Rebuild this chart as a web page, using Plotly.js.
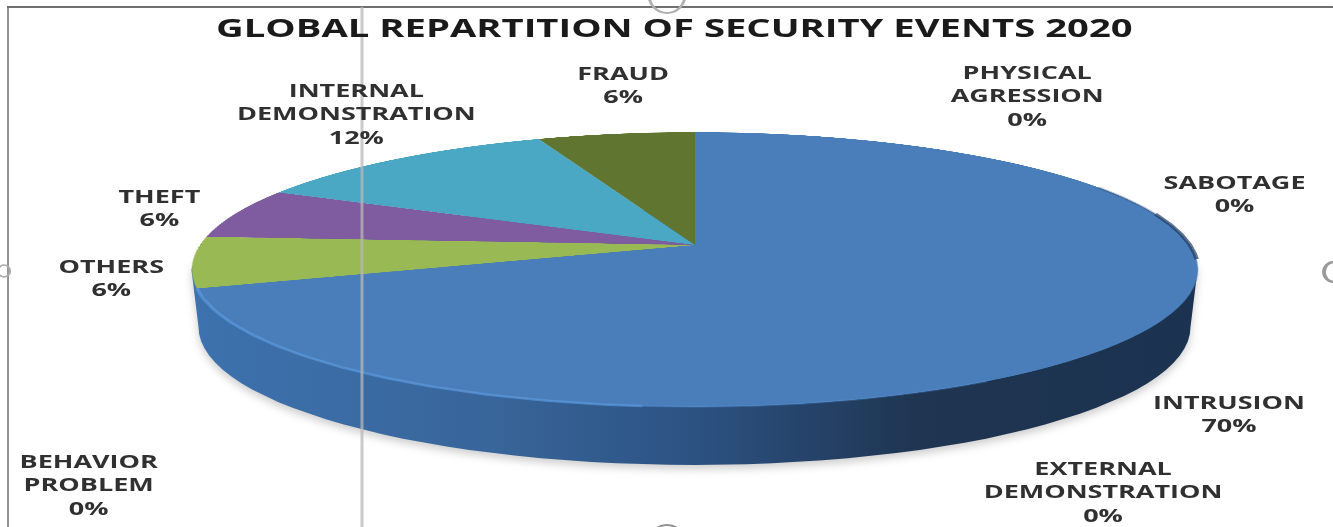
<!DOCTYPE html>
<html>
<head>
<meta charset="utf-8">
<script src="https://cdn.plot.ly/plotly-3.0.1.min.js"></script>
<style>
html,body{margin:0;padding:0;background:#fff;overflow:hidden;width:1333px;height:527px}
#stage{position:absolute;left:0;top:0;width:1333px;height:527px;overflow:hidden;filter:blur(0.55px)}
.layer{position:absolute;left:0;top:0}
#wall{width:1333px;height:527px;filter:drop-shadow(0 4px 4px rgba(0,0,0,.2))}
#pie{left:200px;top:-250px;width:990px;height:990px;transform-origin:495px 495px;
  transform:matrix3d(1,0,0,0, 0,.2687,0,-.00036, 0,0,1,0, 0,0,0,1)}
#overlay{width:889px;height:527px;transform-origin:0 0;transform:scaleX(1.4994)}
</style>
</head>
<body>
<div id="stage">
<div id="wall" class="layer"></div>
<div id="pie" class="layer"></div>
<div id="overlay" class="layer"></div>
</div>
<script>
var chartTitle = 'GLOBAL REPARTITION OF SECURITY EVENTS 2020';
// slices drawn clockwise from 12 o'clock
var categories = ['INTRUSION','OTHERS','THEFT','INTERNAL DEMONSTRATION','FRAUD','PHYSICAL AGRESSION','SABOTAGE','EXTERNAL DEMONSTRATION','BEHAVIOR PROBLEM'];
var values     = [70,6,6,12,6,0,0,0,0];
var colors     = ['#4a7ebb','#98b954','#7f5ca0','#4aa8c5','#5f7530','#999999','#999999','#999999','#999999'];
// label anchor (page px) for each category
var labelX = [1229,111,159,356,623,1027,1235,1103,89];
var labelY = [413,277,207,113,84,95,193,491,484];

var hiddenAxis = {visible:false, fixedrange:true};
var xAxis = Object.assign({range:[0,1333]}, hiddenAxis);
var yAxis = Object.assign({range:[527,0]}, hiddenAxis);
var cfg = {staticPlot:true, displayModeBar:false, responsive:false};

// the tilted disc: angle (deg, clockwise from 12 o'clock) to page px
function rimPoint(deg){
  var t = deg*Math.PI/180, u = Math.sin(t), v = -Math.cos(t), d = 1-0.178*v;
  return [695+495*u/d, 245+133*v/d];
}
function rimArc(a,b){
  var xs=[],ys=[];
  for(var i=0;i<=80;i++){var p=rimPoint(a+(b-a)*i/80);xs.push(p[0]);ys.push(p[1]);}
  return {x:xs,y:ys};
}
// side wall of the disc
function wallOutline(){
  var xs=[],ys=[],i,t;
  for(i=0;i<=60;i++){t=Math.PI*i/60;xs.push(694.5-503*Math.cos(t));ys.push(270-60*Math.sin(t));}
  for(i=60;i>=0;i--){t=Math.PI*i/60;xs.push(694.5-496*Math.cos(t));ys.push(327+138*Math.sin(t));}
  xs.push(xs[0]);ys.push(ys[0]);
  return {x:xs,y:ys};
}
var w = wallOutline();
Plotly.newPlot('wall',[{
  type:'scatter',mode:'lines',x:w.x,y:w.y,line:{width:0},fill:'toself',hoverinfo:'skip',
  fillgradient:{type:'horizontal',colorscale:[[0,'#3d72ae'],[0.3,'#38659a'],[0.5,'#2c5282'],[0.72,'#1f3552'],[1,'#1b3350']]}
}],{width:1333,height:527,margin:{l:0,r:0,t:0,b:0},paper_bgcolor:'rgba(0,0,0,0)',plot_bgcolor:'rgba(0,0,0,0)',
  xaxis:xAxis,yaxis:yAxis,showlegend:false},cfg);

Plotly.newPlot('pie',[{
  type:'pie',labels:categories,values:values,marker:{colors:colors,line:{width:0}},
  sort:false,direction:'clockwise',rotation:0,textinfo:'none',hoverinfo:'skip',automargin:false
}],{width:990,height:990,margin:{l:0,r:0,t:0,b:0},paper_bgcolor:'rgba(0,0,0,0)',showlegend:false},cfg);

var total = values.reduce(function(a,b){return a+b;},0);
var annotations = categories.map(function(c,i){
  return {xref:'x',yref:'y',x:labelX[i],y:labelY[i],xanchor:'center',yanchor:'middle',showarrow:false,align:'center',
    text:c.replace(' ','<br>')+'<br>'+Math.round(values[i]/total*100)+'%',
    font:{family:'Open Sans',size:18,weight:700,color:'#303030'}};
});
annotations.push({xref:'x',yref:'y',x:674,y:27,xanchor:'center',yanchor:'middle',showarrow:false,
  text:chartTitle,font:{family:'Open Sans',size:25.5,weight:700,color:'#1a1a1a'}});

var hi = rimArc(252,185), hi2 = rimArc(185,150), dark = rimArc(76,96), dark2 = rimArc(62,76);
Plotly.newPlot('overlay',[
  {type:'scatter',mode:'lines',x:hi.x,y:hi.y,line:{color:'#5c9be0',width:2.5},opacity:0.65,hoverinfo:'skip'},
  {type:'scatter',mode:'lines',x:hi2.x,y:hi2.y,line:{color:'#5c9be0',width:2},opacity:0.25,hoverinfo:'skip'},
  {type:'scatter',mode:'lines',x:dark.x,y:dark.y,line:{color:'#1f3a5e',width:3},opacity:0.7,hoverinfo:'skip'},
  {type:'scatter',mode:'lines',x:dark2.x,y:dark2.y,line:{color:'#1f3a5e',width:2},opacity:0.3,hoverinfo:'skip'}
],{width:889,height:527,margin:{l:0,r:0,t:0,b:0},paper_bgcolor:'rgba(0,0,0,0)',plot_bgcolor:'rgba(0,0,0,0)',
  xaxis:xAxis,yaxis:yAxis,showlegend:false,annotations:annotations,
  shapes:[
    {type:'line',xref:'x',yref:'y',x0:7,x1:1333,y0:7,y1:7,line:{color:'#6f6f6f',width:2}},
    {type:'line',xref:'x',yref:'y',x0:8,x1:8,y0:7,y1:527,line:{color:'#6f6f6f',width:1}},
    {type:'line',xref:'x',yref:'y',x0:362,x1:362,y0:7,y1:527,line:{color:'#b8b8b8',width:2},opacity:0.75},
    {type:'circle',xref:'x',yref:'y',x0:649,x1:685,y0:-23,y1:13,line:{color:'#b0b0b0',width:2}},
    {type:'circle',xref:'x',yref:'y',x0:649,x1:685,y0:525,y1:561,line:{color:'#909090',width:2}},
    {type:'circle',xref:'x',yref:'y',x0:1324,x1:1344,y0:262,y1:282,line:{color:'#999999',width:2.5}},
    {type:'circle',xref:'x',yref:'y',x0:-2,x1:10,y0:265,y1:277,line:{color:'#aaaaaa',width:1.5}}
  ]},cfg);
</script>
</body>
</html>
